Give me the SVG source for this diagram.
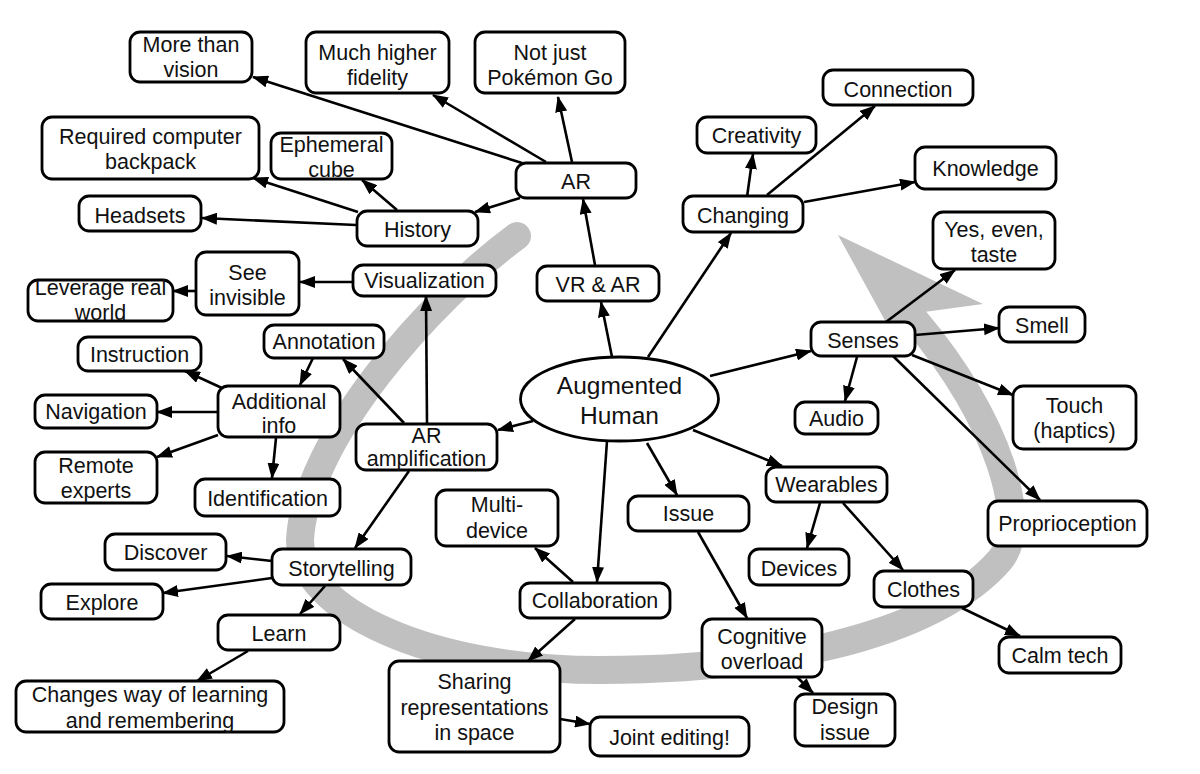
<svg xmlns="http://www.w3.org/2000/svg" width="1200" height="774" viewBox="0 0 1200 774">
<style>
.b{fill:#fff;stroke:#000;stroke-width:2.8}
.t{font-family:"Liberation Sans",Arial,Helvetica,sans-serif;font-size:21.5px;fill:#111;text-anchor:middle}
.c line{stroke:#000;stroke-width:2.6;marker-end:url(#ah)}
</style>
<defs>
<marker id="ah" viewBox="0 0 16 12" refX="15" refY="6" markerWidth="16" markerHeight="12" orient="auto" markerUnits="userSpaceOnUse"><path d="M0,0 L16,6 L0,12 z" fill="#000"/></marker>
</defs>
<rect width="1200" height="774" fill="#fff"/>
<g id="band">
<path d="M517 236 C430 300 305 440 300 540 C300 610 430 670 600 670 C760 670 930 640 1000 560 C1030 525 1000 420 915 320" fill="none" stroke="#c0c0c0" stroke-width="28" stroke-linecap="round"/>
<polygon points="838,235 983,304 924,312 902,330 888,326" fill="#c0c0c0"/>
</g>
<g class="c" id="connectors">
<line x1="522" y1="163" x2="253" y2="77"/>
<line x1="546" y1="162" x2="433" y2="95"/>
<line x1="572" y1="162" x2="558" y2="97"/>
<line x1="520" y1="198" x2="475" y2="212"/>
<line x1="397" y1="210" x2="362" y2="180"/>
<line x1="358" y1="212" x2="253" y2="178"/>
<line x1="356" y1="225" x2="202" y2="218"/>
<line x1="595" y1="265" x2="583" y2="199"/>
<line x1="612" y1="357" x2="601" y2="302"/>
<line x1="648" y1="357" x2="731" y2="233"/>
<line x1="747" y1="197" x2="753" y2="154"/>
<line x1="767" y1="195" x2="875" y2="106"/>
<line x1="804" y1="202" x2="915" y2="182"/>
<line x1="710" y1="376" x2="811" y2="351"/>
<line x1="857" y1="357" x2="845" y2="401"/>
<line x1="886" y1="322" x2="955" y2="270"/>
<line x1="915" y1="335" x2="999" y2="328"/>
<line x1="912" y1="355" x2="1013" y2="395"/>
<line x1="893" y1="356" x2="1040" y2="500"/>
<line x1="693" y1="430" x2="782" y2="466"/>
<line x1="820" y1="503" x2="807" y2="548"/>
<line x1="843" y1="503" x2="903" y2="570"/>
<line x1="962" y1="608" x2="1020" y2="636"/>
<line x1="647" y1="443" x2="677" y2="495"/>
<line x1="698" y1="532" x2="747" y2="618"/>
<line x1="797" y1="677" x2="813" y2="693"/>
<line x1="607" y1="441" x2="597" y2="582"/>
<line x1="573" y1="582" x2="535" y2="548"/>
<line x1="575" y1="619" x2="528" y2="661"/>
<line x1="560" y1="719" x2="590" y2="724"/>
<line x1="533" y1="421" x2="498" y2="430"/>
<line x1="427" y1="423" x2="426" y2="296"/>
<line x1="404" y1="423" x2="343" y2="359"/>
<line x1="353" y1="282" x2="300" y2="282"/>
<line x1="195" y1="291" x2="173" y2="291"/>
<line x1="313" y1="358" x2="300" y2="385"/>
<line x1="222" y1="388" x2="185" y2="371"/>
<line x1="218" y1="412" x2="157" y2="412"/>
<line x1="218" y1="435" x2="157" y2="457"/>
<line x1="276" y1="438" x2="272" y2="478"/>
<line x1="409" y1="471" x2="355" y2="548"/>
<line x1="272" y1="561" x2="227" y2="556"/>
<line x1="272" y1="578" x2="163" y2="593"/>
<line x1="325" y1="586" x2="300" y2="614"/>
<line x1="248" y1="651" x2="197" y2="681"/>
</g>
<g id="n-more"><rect class="b" x="130" y="32" width="122" height="50" rx="10"/><text class="t" x="191" y="52">More than</text><text class="t" x="191" y="77">vision</text></g>
<g id="n-fidelity"><rect class="b" x="306" y="32" width="143" height="61" rx="10"/><text class="t" x="377.5" y="60">Much higher</text><text class="t" x="377.5" y="85">fidelity</text></g>
<g id="n-pokemon"><rect class="b" x="475" y="32" width="150" height="61" rx="10"/><text class="t" x="550" y="60">Not just</text><text class="t" x="550" y="85">Pokémon Go</text></g>
<g id="n-backpack"><rect class="b" x="42" y="117" width="217" height="62" rx="10"/><text class="t" x="150.5" y="144">Required computer</text><text class="t" x="150.5" y="169">backpack</text></g>
<g id="n-cube"><rect class="b" x="271" y="133" width="121" height="46" rx="10"/><text class="t" x="331.5" y="152">Ephemeral</text><text class="t" x="331.5" y="177">cube</text></g>
<g id="n-headsets"><rect class="b" x="79" y="196" width="122" height="35" rx="10"/><text class="t" x="140" y="223">Headsets</text></g>
<g id="n-ar"><rect class="b" x="516" y="163" width="120" height="35" rx="10"/><text class="t" x="576" y="189">AR</text></g>
<g id="n-history"><rect class="b" x="357" y="211" width="121" height="35" rx="10"/><text class="t" x="417.5" y="237">History</text></g>
<g id="n-creativity"><rect class="b" x="697" y="117" width="119" height="36" rx="10"/><text class="t" x="756.5" y="143">Creativity</text></g>
<g id="n-connection"><rect class="b" x="823" y="70" width="150" height="35" rx="10"/><text class="t" x="898" y="96.5">Connection</text></g>
<g id="n-knowledge"><rect class="b" x="915" y="147" width="141" height="42" rx="10"/><text class="t" x="985.5" y="176">Knowledge</text></g>
<g id="n-changing"><rect class="b" x="683" y="196" width="120" height="36" rx="10"/><text class="t" x="743" y="222.5">Changing</text></g>
<g id="n-taste"><rect class="b" x="933" y="212" width="122" height="57" rx="10"/><text class="t" x="994" y="237">Yes, even,</text><text class="t" x="994" y="262">taste</text></g>
<g id="n-vrar"><rect class="b" x="537" y="266" width="122" height="35" rx="10"/><text class="t" x="598" y="291.5">VR &amp; AR</text></g>
<g id="n-visualization"><rect class="b" x="353" y="265" width="143" height="31" rx="10"/><text class="t" x="424.5" y="288">Visualization</text></g>
<g id="n-invisible"><rect class="b" x="196" y="252" width="103" height="63" rx="10"/><text class="t" x="247.5" y="280">See</text><text class="t" x="247.5" y="305">invisible</text></g>
<g id="n-leverage"><rect class="b" x="28" y="280" width="145" height="41" rx="10"/><text class="t" x="100.5" y="294.5">Leverage real</text><text class="t" x="100.5" y="320">world</text></g>
<g id="n-annotation"><rect class="b" x="264" y="325" width="120" height="33" rx="10"/><text class="t" x="324" y="349">Annotation</text></g>
<g id="n-instruction"><rect class="b" x="78" y="337" width="123" height="34" rx="10"/><text class="t" x="139.5" y="362">Instruction</text></g>
<g id="n-senses"><rect class="b" x="811" y="322" width="104" height="34" rx="10"/><text class="t" x="863" y="347.5">Senses</text></g>
<g id="n-smell"><rect class="b" x="999" y="307" width="86" height="35" rx="10"/><text class="t" x="1042" y="333">Smell</text></g>
<g id="n-audio"><rect class="b" x="795" y="402" width="83" height="32" rx="10"/><text class="t" x="836.5" y="425.5">Audio</text></g>
<g id="n-touch"><rect class="b" x="1013" y="386" width="123" height="63" rx="10"/><text class="t" x="1074.5" y="413">Touch</text><text class="t" x="1074.5" y="438">(haptics)</text></g>
<g id="n-human"><ellipse class="b" cx="619.5" cy="399" rx="99" ry="42"/><text class="t" x="619.5" y="394" style="font-size:24.5px">Augmented</text><text class="t" x="619.5" y="423.5" style="font-size:24.5px">Human</text></g>
<g id="n-additional"><rect class="b" x="218" y="386" width="122" height="51" rx="10"/><text class="t" x="279" y="408.5">Additional</text><text class="t" x="279" y="433">info</text></g>
<g id="n-navigation"><rect class="b" x="35" y="395" width="122" height="33" rx="10"/><text class="t" x="96" y="419">Navigation</text></g>
<g id="n-amplification"><rect class="b" x="356" y="424" width="141" height="46" rx="10"/><text class="t" x="426.5" y="443">AR</text><text class="t" x="426.5" y="466">amplification</text></g>
<g id="n-remote"><rect class="b" x="35" y="452" width="122" height="51" rx="10"/><text class="t" x="96" y="473">Remote</text><text class="t" x="96" y="498">experts</text></g>
<g id="n-identification"><rect class="b" x="195" y="479" width="145" height="37" rx="10"/><text class="t" x="267.5" y="506">Identification</text></g>
<g id="n-multidevice"><rect class="b" x="436" y="490" width="122" height="56" rx="10"/><text class="t" x="497" y="511.5">Multi-</text><text class="t" x="497" y="537.5">device</text></g>
<g id="n-issue"><rect class="b" x="628" y="496" width="121" height="35" rx="10"/><text class="t" x="688.5" y="521">Issue</text></g>
<g id="n-wearables"><rect class="b" x="766" y="467" width="121" height="35" rx="10"/><text class="t" x="826.5" y="492">Wearables</text></g>
<g id="n-proprioception"><rect class="b" x="988" y="501" width="159" height="45" rx="10"/><text class="t" x="1067.5" y="531">Proprioception</text></g>
<g id="n-discover"><rect class="b" x="105" y="534" width="121" height="36" rx="10"/><text class="t" x="165.5" y="559.5">Discover</text></g>
<g id="n-storytelling"><rect class="b" x="272" y="549" width="139" height="36" rx="10"/><text class="t" x="341.5" y="575.5">Storytelling</text></g>
<g id="n-devices"><rect class="b" x="749" y="549" width="100" height="36" rx="10"/><text class="t" x="799" y="575.5">Devices</text></g>
<g id="n-clothes"><rect class="b" x="874" y="571" width="99" height="36" rx="10"/><text class="t" x="923.5" y="597">Clothes</text></g>
<g id="n-explore"><rect class="b" x="41" y="584" width="122" height="35" rx="10"/><text class="t" x="102" y="610">Explore</text></g>
<g id="n-collaboration"><rect class="b" x="520" y="583" width="150" height="35" rx="10"/><text class="t" x="595" y="608">Collaboration</text></g>
<g id="n-learn"><rect class="b" x="218" y="615" width="122" height="35" rx="10"/><text class="t" x="279" y="641">Learn</text></g>
<g id="n-cognitive"><rect class="b" x="702" y="619" width="120" height="58" rx="10"/><text class="t" x="762" y="643.5">Cognitive</text><text class="t" x="762" y="669">overload</text></g>
<g id="n-calm"><rect class="b" x="999" y="637" width="122" height="36" rx="10"/><text class="t" x="1060" y="663">Calm tech</text></g>
<g id="n-sharing"><rect class="b" x="389" y="661" width="171" height="91" rx="10"/><text class="t" x="474.5" y="689">Sharing</text><text class="t" x="474.5" y="714.5">representations</text><text class="t" x="474.5" y="739.5">in space</text></g>
<g id="n-changes"><rect class="b" x="16" y="681" width="268" height="51" rx="10"/><text class="t" x="150" y="702">Changes way of learning</text><text class="t" x="150" y="728">and remembering</text></g>
<g id="n-design"><rect class="b" x="795" y="694" width="100" height="52" rx="10"/><text class="t" x="845" y="714">Design</text><text class="t" x="845" y="740">issue</text></g>
<g id="n-joint"><rect class="b" x="590" y="717" width="159" height="39" rx="10"/><text class="t" x="669.5" y="744.5">Joint editing!</text></g>
</svg>
